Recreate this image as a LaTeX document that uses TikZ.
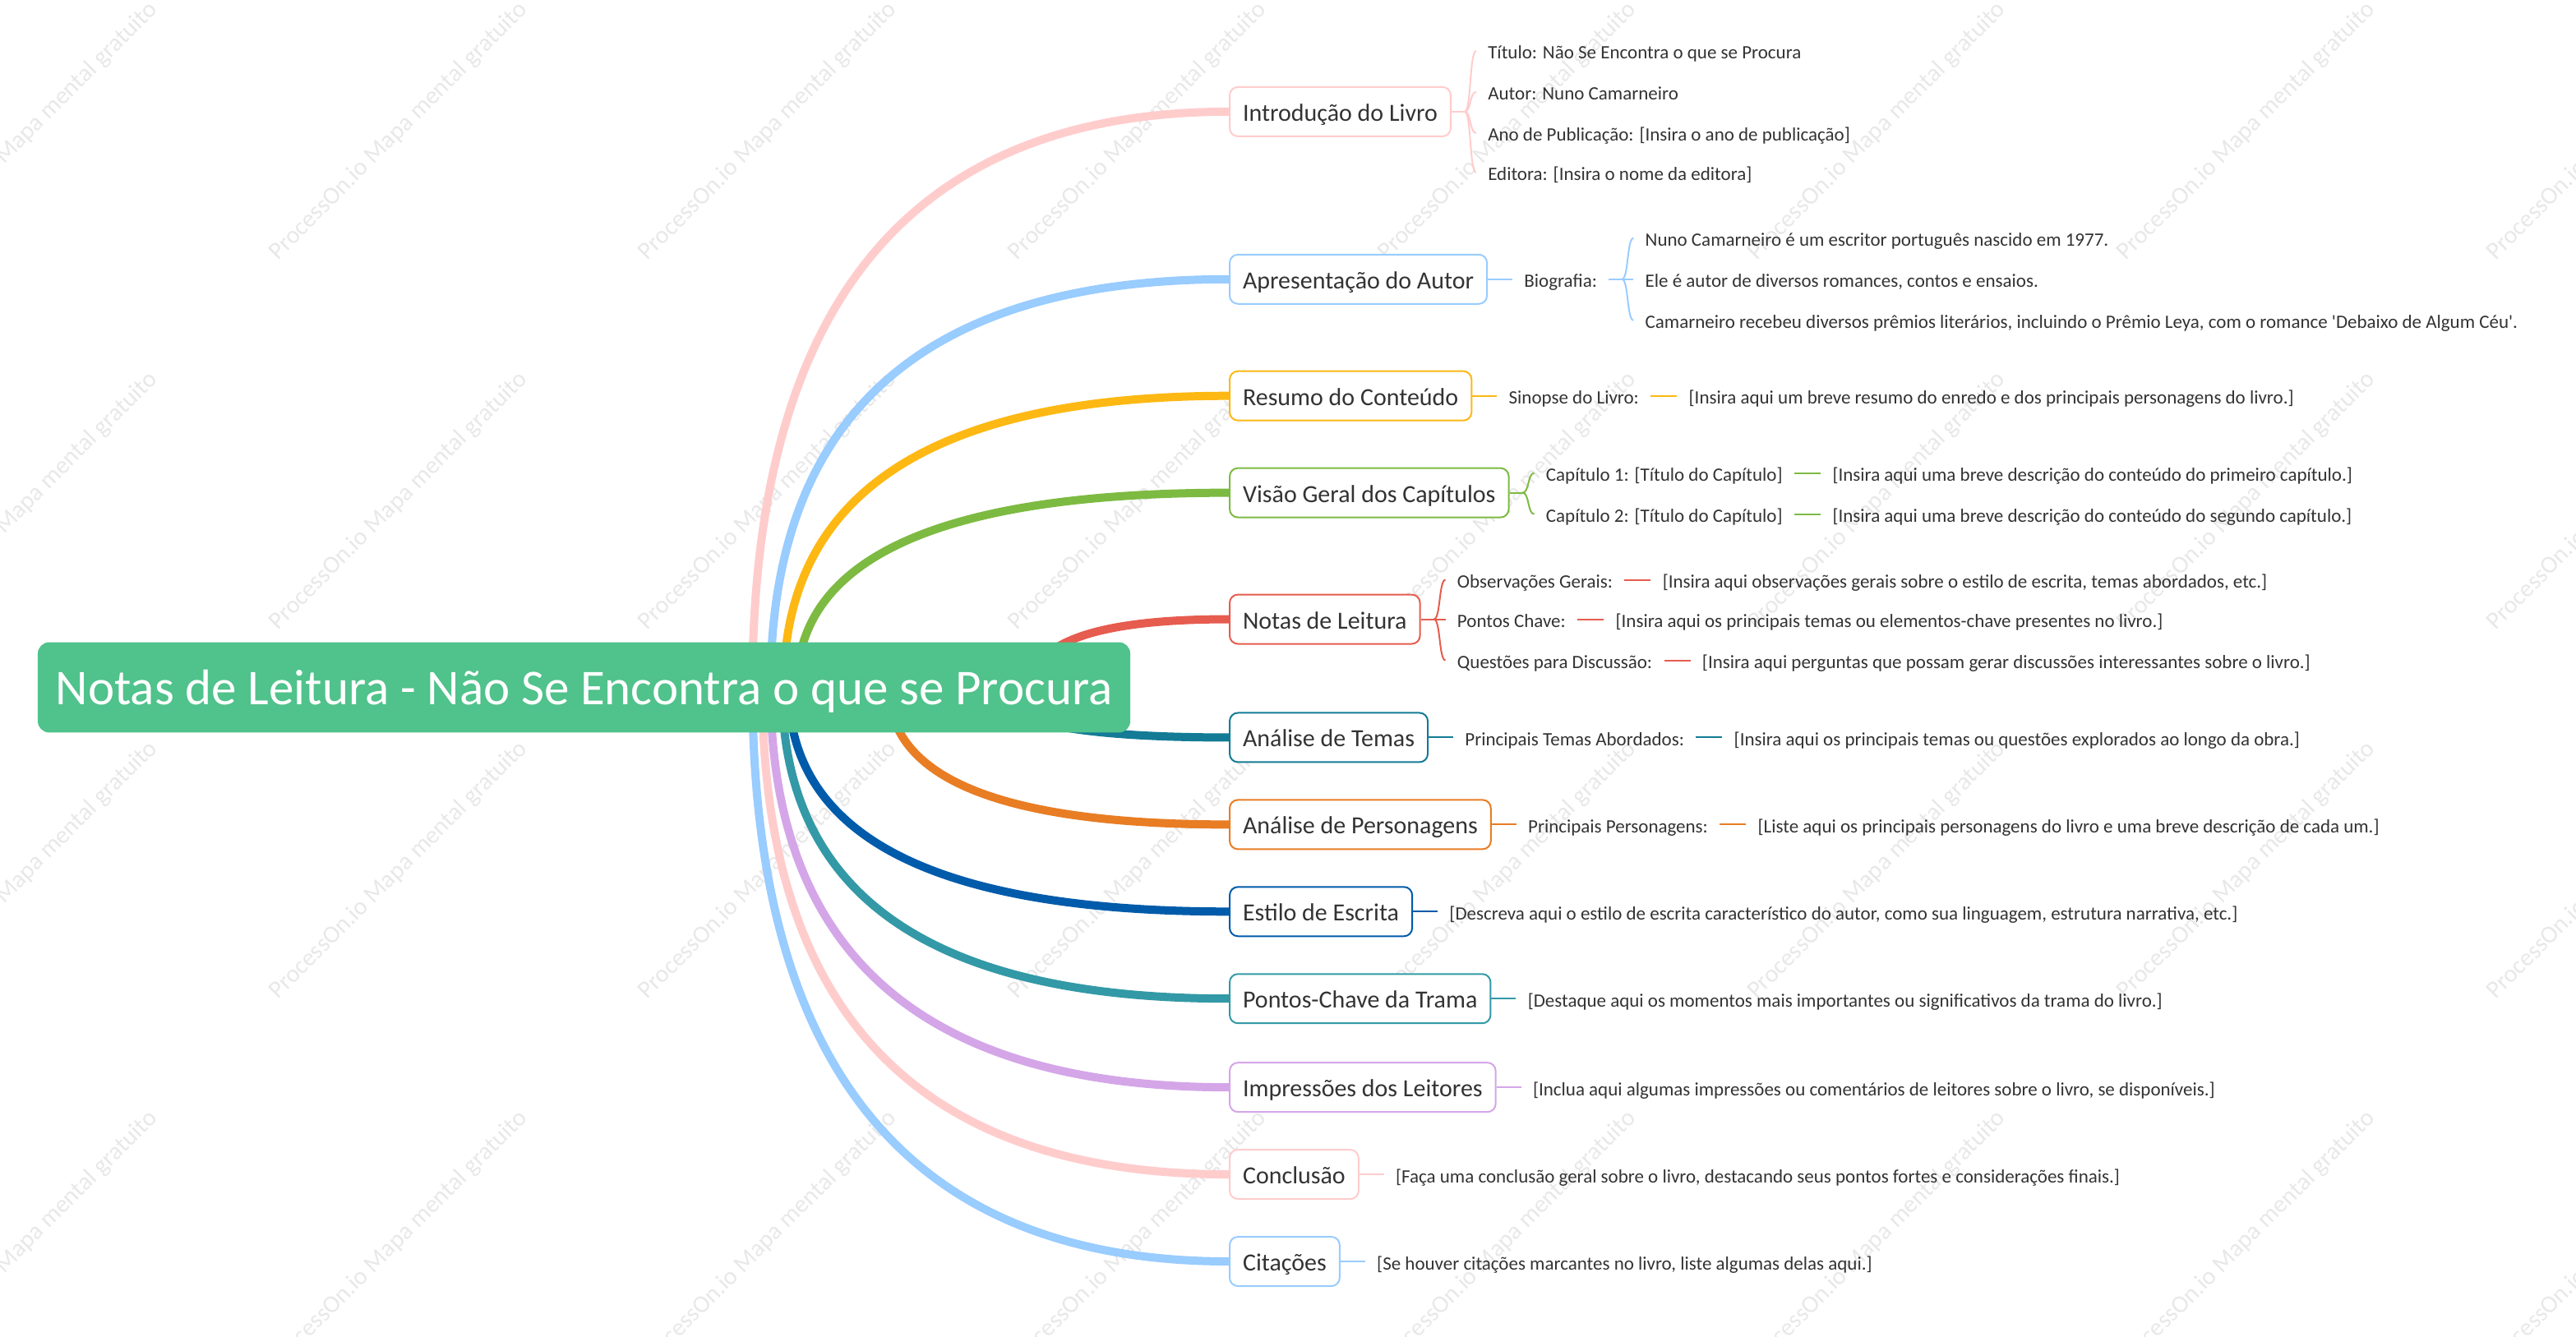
\documentclass[tikz,border=0pt]{standalone}
\usepackage{fontspec}
\setmainfont{Carlito}
\usepackage{tikz}
\usetikzlibrary{positioning,calc,backgrounds}

\definecolor{rootgreen}{HTML}{50C28B}
\definecolor{pinkline}{HTML}{FFCCCC}
\definecolor{skyline}{HTML}{99CCFF}
\definecolor{goldline}{HTML}{FDB813}
\definecolor{grassline}{HTML}{7DBA42}
\definecolor{redline}{HTML}{E65C4F}
\definecolor{petrolline}{HTML}{137B95}
\definecolor{orangeline}{HTML}{E87D24}
\definecolor{navyline}{HTML}{005BAA}
\definecolor{tealline}{HTML}{3399A6}
\definecolor{lilacline}{HTML}{D4A6E8}
\definecolor{textgray}{HTML}{333333}

\tikzset{
  rootbox/.style={fill=rootgreen, rounded corners=7pt, text=white, font=\fontsize{30.5}{36}\selectfont,
    minimum width=665pt, minimum height=55pt, text height=24pt, text depth=3pt},
  topic/.style={draw, line width=1pt, rounded corners=5pt, fill=white, anchor=west, text=textgray,
    font=\fontsize{15}{18}\selectfont, inner xsep=8pt, minimum height=30pt, text height=12pt, text depth=0.5pt},
  leaf/.style={text=textgray, font=\fontsize{11.5}{14}\selectfont, inner xsep=7pt, inner ysep=2pt,
    text height=10.5pt, text depth=0.5pt},
  branch/.style={line width=5pt},
  twig/.style={line width=1pt},
  watermark/.style={text=black!9, font=\fontsize{15}{18}\selectfont, rotate=45},
  limb/.style={to path={.. controls ($(\tikztostart)!2/3!(\tikztostart |- \tikztotarget)$)
    and ($(\tikztotarget)!2/3!(\tikztostart |- \tikztotarget)$) .. (\tikztotarget)}},
  forkto/.style={to path={.. controls +(4,0) and +(-4,0) .. (\tikztotarget)}}
}

\begin{document}
\begin{tikzpicture}[x=1pt, y=-1pt]
\useasboundingbox (0,0) rectangle (1568,814);

% raiz
\node[rootbox] (root) at (355.5,418.5) {Notas de Leitura - Não Se Encontra o que se Procura};

% ramos
\node[topic, draw=pinkline] (intro) at (748,68) {Introdução do Livro};
\node[topic, draw=skyline] (autor) at (748,170) {Apresentação do Autor};
\node[topic, draw=goldline] (resumo) at (748,241) {Resumo do Conteúdo};
\node[topic, draw=grassline] (capitulos) at (748,300) {Visão Geral dos Capítulos};
\node[topic, draw=redline] (notas) at (748,377) {Notas de Leitura};
\node[topic, draw=petrolline] (temas) at (748,449) {Análise de Temas};
\node[topic, draw=orangeline] (personagens) at (748,502) {Análise de Personagens};
\node[topic, draw=navyline] (estilo) at (748,555) {Estilo de Escrita};
\node[topic, draw=tealline] (trama) at (748,608) {Pontos-Chave da Trama};
\node[topic, draw=lilacline] (impressoes) at (748,662) {Impressões dos Leitores};
\node[topic, draw=pinkline] (conclusao) at (748,715) {Conclusão};
\node[topic, draw=skyline] (citacoes) at (748,768) {Citações};

% Introdução do Livro
\node[leaf, right=15pt of intro, yshift=37pt] (titulo) {Título: Não Se Encontra o que se Procura};
\node[leaf, right=15pt of intro, yshift=12pt] (autorlivro) {Autor: Nuno Camarneiro};
\node[leaf, right=15pt of intro, yshift=-13pt] (ano) {Ano de Publicação: [Insira o ano de publicação]};
\node[leaf, right=15pt of intro, yshift=-37pt] (editora) {Editora: [Insira o nome da editora]};

% Apresentação do Autor
\node[leaf, right=15pt of autor] (bio) {Biografia:};
\node[leaf, right=15pt of bio, yshift=25pt] (bioa) {Nuno Camarneiro é um escritor português nascido em 1977.};
\node[leaf, right=15pt of bio] (biob) {Ele é autor de diversos romances, contos e ensaios.};
\node[leaf, right=15pt of bio, yshift=-25pt] (bioc) {Camarneiro recebeu diversos prêmios literários, incluindo o Prêmio Leya, com o romance {\textquotesingle}Debaixo de Algum Céu{\textquotesingle}.};

% Resumo do Conteúdo
\node[leaf, right=15pt of resumo] (sinopse) {Sinopse do Livro:};
\node[leaf, right=16pt of sinopse] (sinopsetxt) {[Insira aqui um breve resumo do enredo e dos principais personagens do livro.]};

% Visão Geral dos Capítulos
\node[leaf, right=15pt of capitulos, yshift=12pt] (capa) {Capítulo 1: [Título do Capítulo]};
\node[leaf, right=16pt of capa] (capatxt) {[Insira aqui uma breve descrição do conteúdo do primeiro capítulo.]};
\node[leaf, right=15pt of capitulos, yshift=-13pt] (capb) {Capítulo 2: [Título do Capítulo]};
\node[leaf, right=16pt of capb] (capbtxt) {[Insira aqui uma breve descrição do conteúdo do segundo capítulo.]};

% Notas de Leitura
\node[leaf, right=15pt of notas, yshift=24pt] (obs) {Observações Gerais:};
\node[leaf, right=16pt of obs] (obstxt) {[Insira aqui observações gerais sobre o estilo de escrita, temas abordados, etc.]};
\node[leaf, right=15pt of notas] (chave) {Pontos Chave:};
\node[leaf, right=16pt of chave] (chavetxt) {[Insira aqui os principais temas ou elementos-chave presentes no livro.]};
\node[leaf, right=15pt of notas, yshift=-25pt] (questoes) {Questões para Discussão:};
\node[leaf, right=16pt of questoes] (questoestxt) {[Insira aqui perguntas que possam gerar discussões interessantes sobre o livro.]};

% Análise de Temas / Personagens
\node[leaf, right=15pt of temas] (temasab) {Principais Temas Abordados:};
\node[leaf, right=16pt of temasab] (temastxt) {[Insira aqui os principais temas ou questões explorados ao longo da obra.]};
\node[leaf, right=15pt of personagens] (princpers) {Principais Personagens:};
\node[leaf, right=16pt of princpers] (perstxt) {[Liste aqui os principais personagens do livro e uma breve descrição de cada um.]};

% folhas simples
\node[leaf, right=15pt of estilo] (estilotxt) {[Descreva aqui o estilo de escrita característico do autor, como sua linguagem, estrutura narrativa, etc.]};
\node[leaf, right=15pt of trama] (tramatxt) {[Destaque aqui os momentos mais importantes ou significativos da trama do livro.]};
\node[leaf, right=15pt of impressoes] (impressoestxt) {[Inclua aqui algumas impressões ou comentários de leitores sobre o livro, se disponíveis.]};
\node[leaf, right=15pt of conclusao] (conclusaotxt) {[Faça uma conclusão geral sobre o livro, destacando seus pontos fortes e considerações finais.]};
\node[leaf, right=15pt of citacoes] (citacoestxt) {[Se houver citações marcantes no livro, liste algumas delas aqui.]};

% ligações finas
\draw[twig, pinkline] (intro.east) -- ++(8,0) coordinate (jintro);
\draw[twig, pinkline] (jintro) to[forkto] (titulo.west);
\draw[twig, pinkline] (jintro) to[forkto] (autorlivro.west);
\draw[twig, pinkline] (jintro) to[forkto] (ano.west);
\draw[twig, pinkline] (jintro) to[forkto] (editora.west);
\draw[twig, skyline] (autor.east) -- (bio.west);
\draw[twig, skyline] (bio.east) -- ++(8,0) coordinate (jbio);
\draw[twig, skyline] (jbio) to[forkto] (bioa.west);
\draw[twig, skyline] (jbio) to[forkto] (biob.west);
\draw[twig, skyline] (jbio) to[forkto] (bioc.west);
\draw[twig, goldline] (resumo.east) -- (sinopse.west);
\draw[twig, goldline] (sinopse.east) -- (sinopsetxt.west);
\draw[twig, grassline] (capitulos.east) -- ++(8,0) coordinate (jcap);
\draw[twig, grassline] (jcap) to[forkto] (capa.west);
\draw[twig, grassline] (jcap) to[forkto] (capb.west);
\draw[twig, grassline] (capa.east) -- (capatxt.west);
\draw[twig, grassline] (capb.east) -- (capbtxt.west);
\draw[twig, redline] (notas.east) -- ++(8,0) coordinate (jnotas);
\draw[twig, redline] (jnotas) to[forkto] (obs.west);
\draw[twig, redline] (jnotas) to[forkto] (chave.west);
\draw[twig, redline] (jnotas) to[forkto] (questoes.west);
\draw[twig, redline] (obs.east) -- (obstxt.west);
\draw[twig, redline] (chave.east) -- (chavetxt.west);
\draw[twig, redline] (questoes.east) -- (questoestxt.west);
\draw[twig, petrolline] (temas.east) -- (temasab.west);
\draw[twig, petrolline] (temasab.east) -- (temastxt.west);
\draw[twig, orangeline] (personagens.east) -- (princpers.west);
\draw[twig, orangeline] (princpers.east) -- (perstxt.west);
\draw[twig, navyline] (estilo.east) -- (estilotxt.west);
\draw[twig, tealline] (trama.east) -- (tramatxt.west);
\draw[twig, lilacline] (impressoes.east) -- (impressoestxt.west);
\draw[twig, pinkline] (conclusao.east) -- (conclusaotxt.west);
\draw[twig, skyline] (citacoes.east) -- (citacoestxt.west);

% marca de agua e ramos grossos por baixo da raiz
\begin{scope}[on background layer]
  \begin{scope}
    \clip (0,0) rectangle (1568,814);
    \foreach \i in {0,...,7}
      \foreach \j in {0,...,3}
        \node[watermark] (wm\i\j) at ({17.5+225*\i},{80+225*\j}) {ProcessOn.io Mapa mental gratuito};
  \end{scope}
  \coordinate (sintro) at (458,418.5);
  \coordinate (sautor) at (469,418.5);
  \coordinate (sresumo) at (477,418.5);
  \coordinate (scapitulos) at (485,418.5);
  \coordinate (snotas) at (628,418.5);
  \coordinate (stemas) at (604,418.5);
  \coordinate (spersonagens) at (541,418.5);
  \coordinate (sestilo) at (480,418.5);
  \coordinate (strama) at (476,418.5);
  \coordinate (simpressoes) at (469,418.5);
  \coordinate (sconclusao) at (464,418.5);
  \coordinate (scitacoes) at (458,418.5);
  \draw[branch, pinkline] (sintro) to[limb] (intro.west);
  \draw[branch, skyline] (sautor) to[limb] (autor.west);
  \draw[branch, goldline] (sresumo) to[limb] (resumo.west);
  \draw[branch, grassline] (scapitulos) to[limb] (capitulos.west);
  \draw[branch, redline] (snotas) to[limb] (notas.west);
  \draw[branch, petrolline] (stemas) to[limb] (temas.west);
  \draw[branch, orangeline] (spersonagens) to[limb] (personagens.west);
  \draw[branch, navyline] (sestilo) to[limb] (estilo.west);
  \draw[branch, tealline] (strama) to[limb] (trama.west);
  \draw[branch, lilacline] (simpressoes) to[limb] (impressoes.west);
  \draw[branch, pinkline] (sconclusao) to[limb] (conclusao.west);
  \draw[branch, skyline] (scitacoes) to[limb] (citacoes.west);
\end{scope}
\end{tikzpicture}
\end{document}
